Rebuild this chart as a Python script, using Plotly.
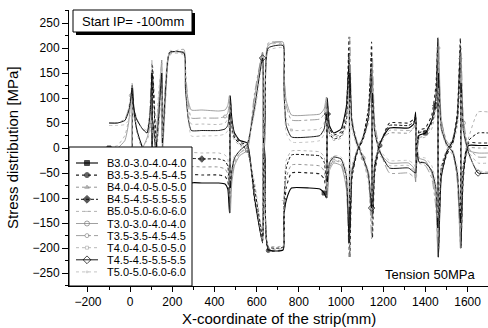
import plotly.graph_objects as go

# ---------------- data ----------------
X_MM = [-100, -60, -25, -8, 3, 9, 11, 17, 30, 55, 80, 95, 103, 106, 120, 135, 150, 153, 165, 178,
        188, 255, 262, 275, 290, 340, 420, 450, 463, 471, 475, 482, 495, 520, 555, 590, 628, 632,
        640, 655, 725, 729, 740, 765, 850, 900, 920, 931, 935, 945, 965, 1000, 1025, 1038, 1042,
        1052, 1075, 1105, 1130, 1145, 1149, 1160, 1185, 1230, 1320, 1345, 1354, 1357, 1370, 1400,
        1430, 1450, 1459, 1462, 1475, 1500, 1530, 1552, 1566, 1569, 1580, 1605, 1650, 1700]

B30_Y = [0, 0, -15, -48, -92, -126, 126, 80, 40, 5, -20, -45, -70, 60, 0, -90, -176, 10, -80, -170, -190, -192, -140, -95, -70,
         -70, -70, -72, -82, -130, 105, 60, 30, 15, 10, -100, -190, 15, -20, -203, -204, -138, -105, -80, -80, -82, -90, -100,
         100, 45, 30, 38, 82, 170, -168, -50, -8, 20, 62, 146, -140, -40, 10, 40, 40, 48, 72, -40, 25, 30, 55, 100, 220, -218,
         -60, -10, 15, 65, 202, -200, -50, 5, 5, 5]
B35_Y = [-45, -45, -55, -75, -100, -125, -110, -80, -58, -40, -30, -85, -170, 165, 40, -40, -140, -20, -110, -180, -190, -197, -160, -90, -54,
         -54, -54, -57, -66, -115, 95, 55, 28, 12, 5, -105, -185, 10, -30, -205, -203, -150, -80, -50, -50, -52, -62, -90,
         92, 40, 26, 32, 75, 222, -218, -60, -12, 18, 60, 212, -180, -50, 5, 50, 50, 58, 62, -25, 35, 40, 65, 125, 210, -205,
         -55, -15, 10, 75, 220, -195, -60, 10, 10, 10]
B40_Y = [0, -5, -25, -55, -88, -112, 112, 70, 35, 0, -15, -35, -55, 50, -10, -110, -170, 0, -70, -165, -188, -188, -130, -70, -38,
         -38, -38, -42, -52, -100, 85, 48, 24, 10, 0, -90, -180, 0, -40, -200, -200, -125, -60, -34, -34, -36, -46, -78,
         80, 35, 22, 28, 65, 150, -140, -45, -5, 25, 70, 160, -120, -35, 15, 30, 30, 40, 55, -20, 20, 25, 48, 95, 190, -175,
         -50, -5, 20, 60, 180, -160, -40, 0, 0, 0]
B45_Y = [-50, -50, -55, -72, -98, -118, -105, -78, -55, -40, -30, -70, -150, 150, 20, -60, -150, -10, -100, -175, -192, -190, -120, -60, -22,
         -22, -22, -26, -36, -85, 72, 40, 20, 8, -5, -80, -178, -10, -60, -198, -198, -115, -40, -14, -14, -16, -28, -66,
         68, 30, 18, 24, 55, 190, -160, -50, -10, 22, 80, 186, -110, -30, 8, 45, 45, 52, 60, -15, 30, 35, 50, 85, 170, -150,
         -40, -8, 12, 55, 160, -140, -35, 15, 30, 30]
B50_Y = [-40, -40, -45, -52, -65, -78, -72, -60, -48, -40, -33, -40, -55, -30, -15, -40, -110, -20, -120, -175, -195, -185, -150, -45, -10,
         -10, -10, -14, -22, -70, 60, 32, 15, 5, -8, -70, -170, -20, -80, -195, -195, -105, -25, -6, -6, -8, -18, -52,
         55, 25, 15, 20, 45, 120, -100, -35, -5, 18, 50, 110, -90, -25, 5, 35, 35, 40, 48, -10, 18, 22, 38, 75, 150, -120,
         -35, -5, 8, 45, 140, -110, -30, 20, 72, 72]
T30_Y = [0, 0, 15, 48, 92, 126, -126, -80, -40, -5, 20, 45, 70, -60, 0, 90, 176, -10, 80, 170, 190, 192, 140, 95, 76,
         76, 74, 76, 85, 105, -130, -70, -35, -15, -5, 100, 192, -20, 20, 206, 212, 150, 95, 66, 66, 68, 78, 102,
         -100, -45, -30, -35, -80, -168, 168, 50, 10, -20, -60, -140, 140, 40, -10, -30, -30, -40, -68, 30, -20, -25, -50, -100,
         -218, 218, 60, 10, -10, -60, -200, 180, 50, -5, -10, -10]
T35_Y = [50, 50, 58, 78, 105, 130, 115, 85, 60, 40, 30, 90, 175, -170, -40, 40, 140, 20, 110, 180, 190, 197, 160, 90, 60,
         60, 60, 63, 70, 92, -110, -60, -30, -10, 0, 110, 190, -10, 30, 210, 210, 160, 85, 56, 56, 58, 68, 92,
         -90, -40, -25, -30, -75, -218, 222, 60, 15, -15, -55, -182, 182, 50, -5, -50, -50, -58, -60, 20, -30, -35, -60, -120,
         -200, 200, 55, 15, -5, -70, -190, 200, 60, 0, -18, -18]
T40_Y = [0, 5, 25, 55, 88, 112, -112, -70, -35, 0, 15, 35, 55, -50, 10, 110, 170, 0, 70, 165, 188, 188, 130, 70, 48,
         48, 47, 50, 58, 80, -95, -50, -25, -10, 5, 90, 185, 0, 40, 205, 208, 130, 60, 36, 36, 38, 50, 80,
         -80, -35, -22, -28, -65, -150, 130, 45, 5, -25, -70, -150, 120, 35, -15, -35, -35, -45, -55, 15, -25, -30, -50, -90,
         -180, 170, 50, 5, -15, -55, -170, 150, 40, -8, -30, -30]
T45_Y = [50, 50, 55, 72, 98, 120, 108, 80, 58, 40, 30, 70, 150, -150, -20, 60, 150, 10, 100, 175, 192, 190, 120, 60, 35,
         35, 35, 38, 45, 68, -80, -45, -20, -5, 8, 80, 180, 10, 60, 200, 205, 120, 45, 22, 22, 25, 38, 68,
         -68, -30, -18, -22, -55, -190, 150, 50, 10, -20, -50, -120, 110, 30, -8, -40, -40, -48, -50, 10, -28, -30, -45, -80,
         -160, 150, 40, 8, -8, -50, -150, 130, 35, -10, -50, -50]
T50_Y = [45, 45, 47, 55, 68, 80, 75, 62, 50, 42, 35, 40, 55, 30, 15, 40, 110, 20, 120, 175, 195, 185, 150, 60, 24,
         24, 25, 28, 35, 55, -65, -35, -15, -5, 10, 70, 170, 20, 80, 195, 200, 110, 30, 12, 12, 15, 28, 55,
         -55, -25, -15, -18, -45, -120, 100, 35, 5, -18, -45, -100, 90, 25, -5, -25, -25, -32, -40, 5, -18, -20, -35, -70,
         -140, 120, 35, 5, -5, -40, -130, 110, 30, -15, -45, -48]

SERIES_NAMES = ["B3.0-3.0-4.0-4.0", "B3.5-3.5-4.5-4.5", "B4.0-4.0-5.0-5.0", "B4.5-4.5-5.5-5.5",
                "B5.0-5.0-6.0-6.0", "T3.0-3.0-4.0-4.0", "T3.5-3.5-4.5-4.5", "T4.0-4.0-5.0-5.0",
                "T4.5-4.5-5.5-5.5", "T5.0-5.0-6.0-6.0"]
X_TICKS = [-200, 0, 200, 400, 600, 800, 1000, 1200, 1400, 1600]
Y_TICKS = [-250, -200, -150, -100, -50, 0, 50, 100, 150, 200, 250]
X_TITLE = "X-coordinate of the strip(mm)"
Y_TITLE = "Stress distribution [MPa]"
NOTE_START = "Start IP= -100mm"
NOTE_TENSION = "Tension 50MPa"

# ---------------- styling ----------------
SERIES_Y = [B30_Y, B35_Y, B40_Y, B45_Y, B50_Y, T30_Y, T35_Y, T40_Y, T45_Y, T50_Y]
for ys in SERIES_Y:
    assert len(ys) == len(X_MM), (len(ys), len(X_MM))

STYLES = [
    dict(color="#000000", dash="solid", width=1.1, symbol="square", ms=5),
    dict(color="#222222", dash="dot", width=1.1, symbol="circle", ms=5),
    dict(color="#888888", dash="dot", width=0.9, symbol="triangle-up", ms=4),
    dict(color="#111111", dash="3px,2px", width=1.0, symbol="diamond", ms=6),
    dict(color="#aaaaaa", dash="dot", width=0.9, symbol="line-ew-open", ms=4),
    dict(color="#777777", dash="solid", width=0.7, symbol="circle-open", ms=5),
    dict(color="#888888", dash="dashdot", width=0.8, symbol="circle-open", ms=4),
    dict(color="#b0b0b0", dash="dot", width=0.9, symbol="square-open", ms=3),
    dict(color="#000000", dash="solid", width=0.9, symbol="diamond-open", ms=6),
    dict(color="#c0c0c0", dash="dot", width=0.9, symbol="circle", ms=2),
]

FONT = "Liberation Sans, Arial, sans-serif"
W, H = 488, 328
ML, MR, MT, MB = 69, 0, 10, 42
PW, PH = W - ML - MR, H - MT - MB


def px_to_paper_x(px):
    return (px - ML) / PW


def py_to_paper_y(py):
    return (H - MB - py) / PH


fig = go.Figure()
n = len(X_MM)
for k, (name, ys, st) in enumerate(zip(SERIES_NAMES, SERIES_Y, STYLES)):
    sizes = [st["ms"] - 1 if (i + 7 * k) % 23 == 0 else 0 for i in range(n)]
    fig.add_trace(go.Scatter(
        x=X_MM, y=ys, name=name, mode="lines+markers", showlegend=False,
        line=dict(color=st["color"], dash=st["dash"], width=st["width"], shape="spline", smoothing=0.5),
        marker=dict(symbol=st["symbol"], size=sizes, color=st["color"],
                    line=dict(color=st["color"], width=1)),
        hoverinfo="skip"))

# ---------------- custom legend (box + samples on an overlay axis) ----------------
bx0, bx1 = px_to_paper_x(69), px_to_paper_x(192)
by0, by1 = py_to_paper_y(286), py_to_paper_y(147)
fig.add_trace(go.Scatter(x=[bx0, bx1, bx1, bx0, bx0], y=[by0, by0, by1, by1, by0],
                         mode="lines", fill="toself", fillcolor="white",
                         line=dict(color="black", width=1), xaxis="x2", yaxis="y2",
                         showlegend=False, hoverinfo="skip"))
sx0, sx1, sxm = px_to_paper_x(76), px_to_paper_x(98), px_to_paper_x(87)
annotations = []
for k, (name, st) in enumerate(zip(SERIES_NAMES, STYLES)):
    yy = py_to_paper_y(163 + 12.1 * k)
    fig.add_trace(go.Scatter(
        x=[sx0, sxm, sx1], y=[yy, yy, yy], mode="lines+markers", xaxis="x2", yaxis="y2",
        line=dict(color=st["color"], dash=st["dash"], width=st["width"]),
        marker=dict(symbol=st["symbol"], size=[0, st["ms"], 0], color=st["color"],
                    line=dict(color=st["color"], width=1)),
        showlegend=False, hoverinfo="skip"))
    annotations.append(dict(x=px_to_paper_x(105), y=yy, xref="paper", yref="paper",
                            text=name, showarrow=False, xanchor="left", yanchor="middle",
                            font=dict(family=FONT, size=11, color="black")))

annotations += [
    dict(x=px_to_paper_x(133), y=py_to_paper_y(21.5), xref="paper", yref="paper", text=NOTE_START,
         showarrow=False, xanchor="center", yanchor="middle",
         font=dict(family=FONT, size=13, color="black")),
    dict(x=px_to_paper_x(430), y=py_to_paper_y(274), xref="paper", yref="paper", text=NOTE_TENSION,
         showarrow=False, xanchor="center", yanchor="middle",
         font=dict(family=FONT, size=13, color="black")),
    dict(x=0.5, y=py_to_paper_y(318), xref="paper", yref="paper", text=X_TITLE,
         showarrow=False, xanchor="center", yanchor="middle",
         font=dict(family=FONT, size=15, color="black")),
    dict(x=px_to_paper_x(12), y=0.5, xref="paper", yref="paper", text=Y_TITLE, textangle=-90,
         showarrow=False, xanchor="center", yanchor="middle",
         font=dict(family=FONT, size=15, color="black")),
]

shapes = [
    dict(type="rect", xref="paper", yref="paper", x0=px_to_paper_x(76), x1=px_to_paper_x(195),
         y0=py_to_paper_y(35), y1=py_to_paper_y(13), fillcolor="black", line=dict(width=0), layer="above"),
    dict(type="rect", xref="paper", yref="paper", x0=px_to_paper_x(73), x1=px_to_paper_x(192),
         y0=py_to_paper_y(32), y1=py_to_paper_y(10), fillcolor="white",
         line=dict(color="black", width=1), layer="above"),
]

fig.update_layout(
    width=W, height=H, margin=dict(l=ML, r=MR, t=MT, b=MB),
    paper_bgcolor="white", plot_bgcolor="white",
    font=dict(family=FONT, size=12, color="black"),
    showlegend=False,
    annotations=annotations, shapes=shapes,
    xaxis=dict(range=[-290, 1697], tickvals=X_TICKS, ticks="outside", ticklen=5, tickwidth=1,
               tickcolor="black", showline=True, linecolor="black", linewidth=1,
               showgrid=False, zeroline=False, tickfont=dict(family=FONT, size=12),
               minor=dict(dtick=100, tick0=0, ticks="outside", ticklen=3, tickcolor="black"),
               fixedrange=True),
    yaxis=dict(range=[-276, 276], tickvals=Y_TICKS, ticks="outside", ticklen=6, tickwidth=1,
               tickcolor="black", showline=True, linecolor="black", linewidth=1,
               showgrid=False, zeroline=False, tickfont=dict(family=FONT, size=12),
               minor=dict(dtick=25, tick0=0, ticks="outside", ticklen=3, tickcolor="black"),
               fixedrange=True),
    xaxis2=dict(overlaying="x", range=[0, 1], visible=False, fixedrange=True),
    yaxis2=dict(overlaying="y", range=[0, 1], visible=False, fixedrange=True),
)

fig.write_html("out.html")
